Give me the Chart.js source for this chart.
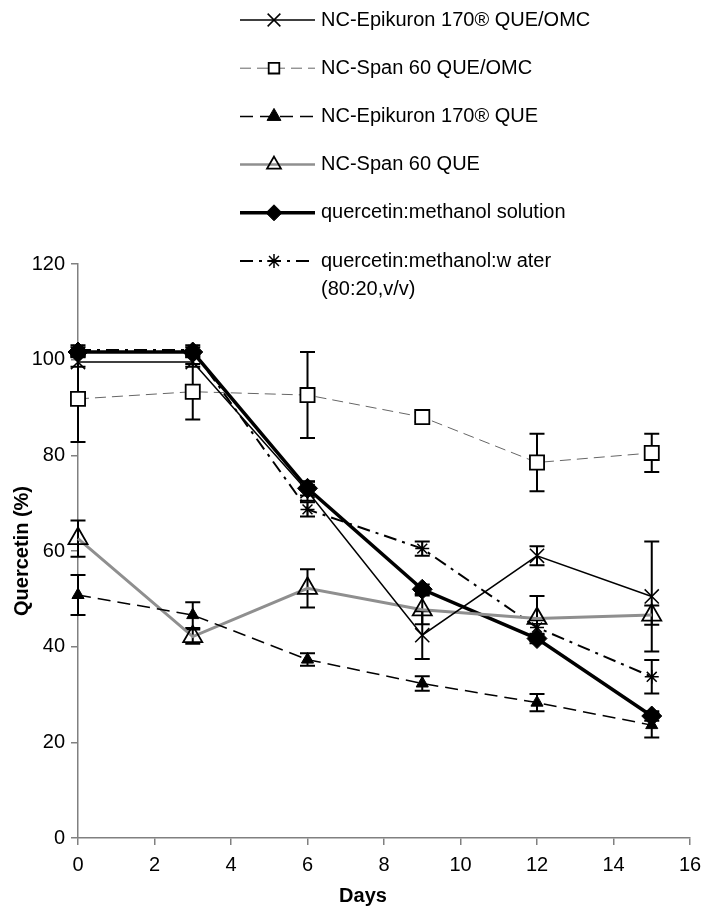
<!DOCTYPE html>
<html>
<head>
<meta charset="utf-8">
<script src="https://cdn.jsdelivr.net/npm/chart.js@4/dist/chart.umd.min.js"></script>
<style>
  html, body { margin: 0; padding: 0; background: #fff; }
  #wrap { width: 705px; height: 911px; }
</style>
</head>
<body>
<div id="wrap"><canvas id="chart" width="705" height="911"></canvas></div>
<script>
// data
var days = [0, 3, 6, 9, 12, 15];
var seriesNames = [
  "NC-Epikuron 170\u00AE QUE/OMC",
  "NC-Span 60 QUE/OMC",
  "NC-Epikuron 170\u00AE QUE",
  "NC-Span 60 QUE",
  "quercetin:methanol solution",
  ["quercetin:methanol:w ater", "(80:20,v/v)"]
];
var epiOmc = [99.5, 99.5, 72.5, 42.4, 59.0, 50.5];
var epiOmcErr = [1, 1, 2, 5, 2, 11.5];
var spanOmc = [91.8, 93.3, 92.6, 88.0, 78.5, 80.5];
var spanOmcErr = [9, 5.8, 9, 1, 6, 4];
var epiQue = [50.8, 46.6, 37.3, 32.3, 28.3, 23.6];
var epiQueErr = [4.2, 2.7, 1.3, 1.5, 1.8, 2.6];
var spanQue = [62.6, 42.1, 52.2, 47.7, 45.9, 46.6];
var spanQueErr = [3.8, 1.5, 4, 3, 4.7, 2];
var mSolution = [101.6, 101.6, 73.1, 52.0, 41.7, 25.5];
var mSolutionErr = [1, 1, 1.5, 1, 1, 1];
var mWater = [102, 102, 68.7, 60.5, 44, 33.7];
var mWaterErr = [1, 1, 1.5, 1.5, 1.5, 3.5];
var xTicks = [0, 2, 4, 6, 8, 10, 12, 14, 16];
var yTicks = [0, 20, 40, 60, 80, 100, 120];

var FONT = "'Liberation Sans', Arial, sans-serif";

function pts(vals) {
  return vals.map(function (v, i) { return { x: days[i], y: v }; });
}

var datasets = [
  { label: seriesNames[0], data: pts(epiOmc), err: epiOmcErr, borderColor: "#000", borderWidth: 1.5,
    pointStyle: "crossRot", pointRadius: 10, pointBorderWidth: 1.5, pointBorderColor: "#000", pointBackgroundColor: "#000", legendR: 9 },
  { label: seriesNames[1], data: pts(spanOmc), err: spanOmcErr, borderColor: "#666", borderWidth: 1, borderDash: [11, 6],
    pointStyle: "rect", pointRadius: 10, pointBorderWidth: 1.8, pointBorderColor: "#000", pointBackgroundColor: "#fff", legendR: 7.5 },
  { label: seriesNames[2], data: pts(epiQue), err: epiQueErr, borderColor: "#000", borderWidth: 1.5, borderDash: [13, 7],
    pointStyle: "triangle", pointRadius: 7, pointBorderWidth: 1, pointBorderColor: "#000", pointBackgroundColor: "#000", legendR: 8 },
  { label: seriesNames[3], data: pts(spanQue), err: spanQueErr, borderColor: "#8f8f8f", borderWidth: 3,
    pointStyle: "triangle", pointRadius: 11, pointBorderWidth: 1.8, pointBorderColor: "#000", pointBackgroundColor: "rgba(255,255,255,0)", legendR: 8 },
  { label: seriesNames[4], data: pts(mSolution), err: mSolutionErr, borderColor: "#000", borderWidth: 3.5,
    pointStyle: "rectRot", pointRadius: 10, pointBorderWidth: 1, pointBorderColor: "#000", pointBackgroundColor: "#000", legendR: 8 },
  { label: seriesNames[5], data: pts(mWater), err: mWaterErr, borderColor: "#000", borderWidth: 2, borderDash: [13, 6, 3, 6],
    pointStyle: "star", pointRadius: 7, pointBorderWidth: 1.5, pointBorderColor: "#000", pointBackgroundColor: "#000", legendR: 7 }
];
datasets.forEach(function (ds) { ds.clip = false; });

// error bars, drawn under the markers
var errorBars = {
  id: "errorBars",
  beforeDatasetsDraw: function (chart) {
    var ctx = chart.ctx, xs = chart.scales.x, ys = chart.scales.y;
    ctx.save();
    ctx.strokeStyle = "#000";
    ctx.lineWidth = 2;
    chart.data.datasets.forEach(function (ds) {
      ds.data.forEach(function (p, i) {
        var e = ds.err[i];
        var px = xs.getPixelForValue(p.x);
        var top = ys.getPixelForValue(p.y + e);
        var bot = ys.getPixelForValue(p.y - e);
        ctx.beginPath();
        ctx.moveTo(px, top); ctx.lineTo(px, bot);
        ctx.moveTo(px - 7.5, top); ctx.lineTo(px + 7.5, top);
        ctx.moveTo(px - 7.5, bot); ctx.lineTo(px + 7.5, bot);
        ctx.stroke();
      });
    });
    ctx.restore();
  }
};

// legend at the top right and the two axis titles
var extras = {
  id: "extras",
  afterDraw: function (chart) {
    var ctx = chart.ctx;
    ctx.save();
    chart.data.datasets.forEach(function (ds, i) {
      var y = 20 + i * 48.2;
      ctx.strokeStyle = ds.borderColor;
      ctx.lineWidth = i === 3 ? 2.5 : ds.borderWidth;
      ctx.setLineDash(ds.borderDash || []);
      ctx.beginPath();
      ctx.moveTo(240, y); ctx.lineTo(315, y);
      ctx.stroke();
      ctx.setLineDash([]);
      ctx.strokeStyle = ds.pointBorderColor;
      ctx.fillStyle = ds.pointBackgroundColor;
      ctx.lineWidth = ds.pointBorderWidth;
      Chart.helpers.drawPoint(ctx, { pointStyle: ds.pointStyle, radius: ds.legendR, borderWidth: ds.pointBorderWidth, rotation: 0 }, 274, y);
      ctx.fillStyle = "#000";
      ctx.font = "20px " + FONT;
      ctx.textBaseline = "middle";
      ctx.textAlign = "left";
      var lines = Array.isArray(ds.label) ? ds.label : [ds.label];
      lines.forEach(function (t, k) { ctx.fillText(t, 321, y + k * 28); });
    });
    ctx.font = "bold 20px " + FONT;
    ctx.textAlign = "center";
    ctx.textBaseline = "middle";
    ctx.fillText("Days", 363, 896);
    ctx.translate(22, 551);
    ctx.rotate(-Math.PI / 2);
    ctx.fillText("Quercetin (%)", 0, 0);
    ctx.restore();
  }
};

new Chart(document.getElementById("chart"), {
  type: "line",
  data: { datasets: datasets },
  options: {
    responsive: false,
    devicePixelRatio: 1,
    animation: false,
    layout: { padding: { top: 264, right: 15, left: 0, bottom: 0 } },
    plugins: { legend: { display: false }, tooltip: { enabled: false } },
    elements: { line: { tension: 0, fill: false } },
    scales: {
      x: {
        type: "linear", min: 0, max: 16,
        afterFit: function (s) { s.height = 73; s.paddingLeft = 0; s.paddingRight = 0; },
        afterBuildTicks: function (s) { s.ticks = xTicks.map(function (v) { return { value: v }; }); },
        border: { color: "#808080", width: 1.5 },
        grid: { drawOnChartArea: false, drawTicks: true, tickLength: 7, color: "#808080", lineWidth: 1.5 },
        ticks: { color: "#000", font: { size: 20, family: FONT }, padding: 8, maxRotation: 0 }
      },
      y: {
        min: 0, max: 120,
        afterFit: function (s) { s.width = 78; s.paddingTop = 0; s.paddingBottom = 0; },
        afterBuildTicks: function (s) { s.ticks = yTicks.map(function (v) { return { value: v }; }); },
        border: { color: "#808080", width: 1.5 },
        grid: { drawOnChartArea: false, drawTicks: true, tickLength: 7, color: "#808080", lineWidth: 1.5 },
        ticks: { color: "#000", font: { size: 20, family: FONT }, padding: 6 }
      }
    }
  },
  plugins: [errorBars, extras]
});
</script>
</body>
</html>
